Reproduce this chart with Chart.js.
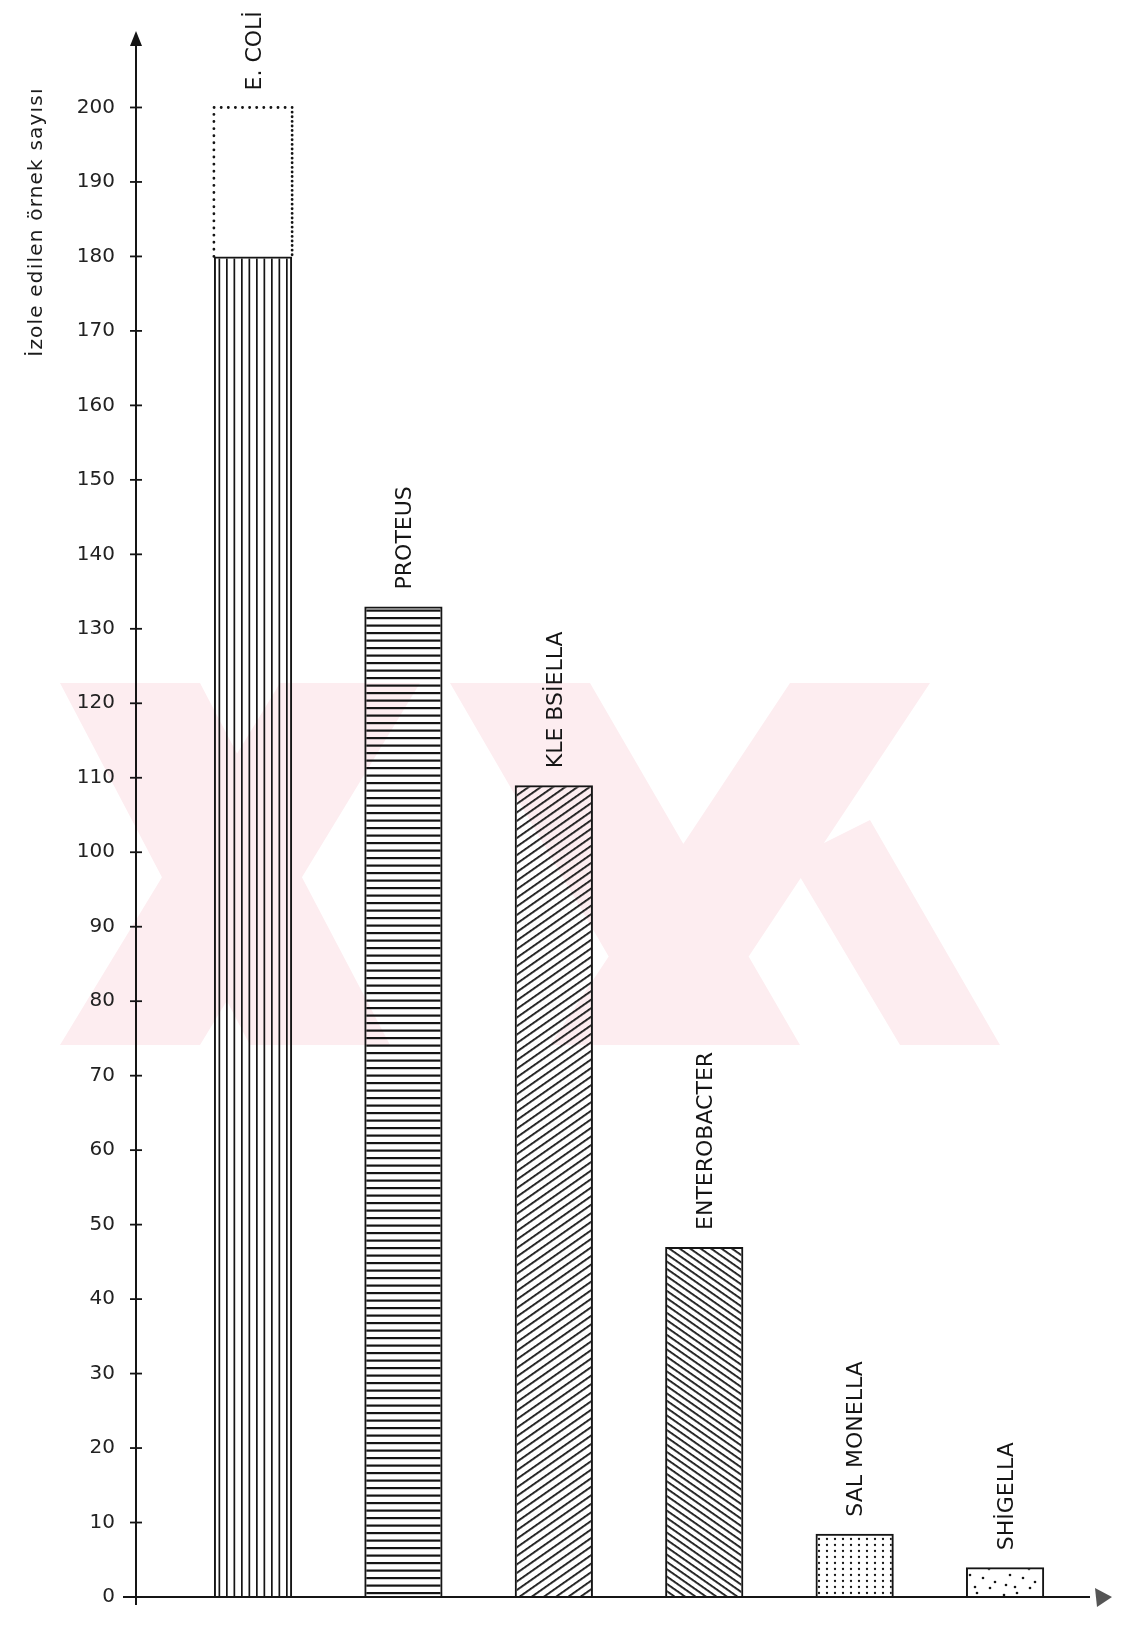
<!DOCTYPE html>
<html><head><meta charset="utf-8">
<script src="https://cdn.jsdelivr.net/npm/chart.js@4"></script>
<style>html,body{margin:0;padding:0;background:#fff;}#wrap{width:1129px;height:1630px;position:relative}</style>
</head><body><div id="wrap"><canvas id="c" width="1129" height="1630"></canvas></div>
<script>
// ---- data ----
const categories = ['E. COLİ', 'PROTEUS', 'KLE BSİELLA', 'ENTEROBACTER', 'SAL MONELLA', 'SHİGELLA'];
const isolatedCounts = [180, 133, 109, 47, 8.5, 4];
const ecoliDottedPart = [20, 0, 0, 0, 0, 0];
const yTickValues = [0, 10, 20, 30, 40, 50, 60, 70, 80, 90, 100, 110, 120, 130, 140, 150, 160, 170, 180, 190, 200];
const yAxisTitle = 'İzole edilen örnek sayısı';

// ---- fill patterns ----
function tile(w, h, draw) {
  const c = document.createElement('canvas'); c.width = w; c.height = h;
  const g = c.getContext('2d'); g.fillStyle = '#151515'; g.strokeStyle = '#151515';
  draw(g); return c;
}
const ctx0 = document.getElementById('c').getContext('2d');
function pat(c, rot) {
  const p = ctx0.createPattern(c, 'repeat');
  if (rot) p.setTransform(new DOMMatrix().rotate(rot));
  return p;
}
const patVertical = pat(tile(15, 4, g => { g.fillRect(1, 0, 1.7, 4); g.fillRect(8.5, 0, 1.7, 4); }));
const patHorizontal = pat(tile(4, 15, g => { g.fillRect(0, 2, 4, 2.2); g.fillRect(0, 9.5, 4, 2.2); }));
const patDiagUp = pat(tile(4, 7, g => { g.fillRect(0, 2, 4, 1.8); }), -35);
const patDiagDown = pat(tile(4, 6, g => { g.fillRect(0, 2, 4, 1.8); }), 35);
const patDenseDots = pat(tile(8, 6, g => { g.beginPath(); g.arc(3, 3, 1.15, 0, 7); g.fill(); }));
const patSparseDots = pat(tile(40, 30, g => {
  [[4, 5], [17, 3], [29, 9], [10, 15], [23, 18], [35, 22], [6, 25], [30, 28], [15, 27]].forEach(([a, b]) => { g.beginPath(); g.arc(a, b, 1.3, 0, 7); g.fill(); });
}));
const barFills = [patVertical, patHorizontal, patDiagUp, patDiagDown, patDenseDots, patSparseDots];

const INK = '#151515';
const decor = {
  id: 'decor',
  beforeDraw(chart) {
    const { ctx } = chart;
    ctx.save();
    ctx.fillStyle = '#fdedf0';
    const polys = [
      [[60, 683], [200, 683], [390, 1045], [250, 1045]],
      [[280, 683], [420, 683], [200, 1045], [60, 1045]],
      [[450, 683], [590, 683], [800, 1045], [660, 1045]],
      [[790, 683], [930, 683], [690, 1045], [550, 1045]],
      [[790, 860], [870, 820], [1000, 1045], [900, 1045]]
    ];
    ctx.beginPath();
    polys.forEach(p => { p.forEach(([a, b], i) => i ? ctx.lineTo(a, b) : ctx.moveTo(a, b)); ctx.closePath(); });
    ctx.fill('nonzero');
    ctx.restore();
  },
  afterDatasetsDraw(chart) {
    const { ctx, chartArea, scales: { x, y } } = chart;
    ctx.save();
    // dotted extension
    const meta = chart.getDatasetMeta(1);
    meta.data.forEach((el, i) => {
      if (!ecoliDottedPart[i]) return;
      const p = el.getProps(['x', 'y', 'base', 'width'], true);
      const l = p.x - p.width / 2, r = p.x + p.width / 2;
      ctx.lineCap = 'round'; ctx.lineWidth = 2.8; ctx.strokeStyle = INK;
      ctx.setLineDash([0.1, 7]);
      ctx.beginPath(); ctx.moveTo(l, p.base); ctx.lineTo(l, p.y); ctx.lineTo(r, p.y); ctx.stroke();
      ctx.setLineDash([0.1, 4.5]);
      ctx.beginPath(); ctx.moveTo(r, p.y); ctx.lineTo(r, p.base); ctx.stroke();
    });
    ctx.setLineDash([]); ctx.lineCap = 'butt';
    // axes
    const x0 = chartArea.left, y0 = y.getPixelForValue(0);
    ctx.strokeStyle = INK; ctx.fillStyle = INK; ctx.lineWidth = 2;
    ctx.beginPath(); ctx.moveTo(x0, y0 + 8); ctx.lineTo(x0, chartArea.top + 8); ctx.stroke();
    ctx.beginPath(); ctx.moveTo(x0, chartArea.top - 2); ctx.lineTo(x0 - 6, chartArea.top + 13); ctx.lineTo(x0 + 6, chartArea.top + 13); ctx.closePath(); ctx.fill();
    ctx.beginPath(); ctx.moveTo(x0 - 13, y0); ctx.lineTo(chartArea.right - 22, y0); ctx.stroke();
    ctx.fillStyle = '#555';
    ctx.beginPath(); ctx.moveTo(chartArea.right, y0); ctx.lineTo(chartArea.right - 17, y0 - 9); ctx.lineTo(chartArea.right - 15, y0 + 10); ctx.closePath(); ctx.fill();
    // tick crosses
    ctx.lineWidth = 1.8;
    yTickValues.forEach(v => { const py = y.getPixelForValue(v); ctx.beginPath(); ctx.moveTo(x0 - 6, py); ctx.lineTo(x0 + 6, py); ctx.stroke(); });
    // category labels
    ctx.fillStyle = INK; ctx.font = '22px "DejaVu Sans"';
    ctx.textAlign = 'left'; ctx.textBaseline = 'middle';
    categories.forEach((name, i) => {
      const top = isolatedCounts[i] + ecoliDottedPart[i];
      const px = x.getPixelForValue(i + 1), py = y.getPixelForValue(top) - 17;
      ctx.save(); ctx.translate(px + 2, py); ctx.rotate(-Math.PI / 2); ctx.fillText(name, 0, 0); ctx.restore();
    });
    // y title
    ctx.font = '20px "DejaVu Sans"'; ctx.fillStyle = '#1c1c1c'; ctx.textAlign = 'center';
    ctx.save(); ctx.translate(37, 222); ctx.rotate(-Math.PI / 2); ctx.letterSpacing = '1.2px'; ctx.fillText(yAxisTitle, 0, 0); ctx.restore();
    ctx.restore();
  }
};

new Chart(document.getElementById('c'), {
  type: 'bar',
  data: {
    datasets: [
      { data: isolatedCounts.map((v, i) => ({ x: i + 1, y: v })), backgroundColor: barFills, borderColor: INK, borderWidth: 2, barPercentage: 0.52, categoryPercentage: 1 },
      { data: ecoliDottedPart.map((v, i) => ({ x: i + 1, y: v })), backgroundColor: 'rgba(0,0,0,0)', borderWidth: 0, barPercentage: 0.52, categoryPercentage: 1 }
    ]
  },
  options: {
    responsive: false, animation: false, devicePixelRatio: 1,
    layout: { padding: { left: 0, right: 17, top: 32, bottom: 15 } },
    plugins: { legend: { display: false }, tooltip: { enabled: false } },
    scales: {
      x: {
        type: 'linear', min: 0.222, max: 6.711, stacked: true, display: false, offset: false,
        afterBuildTicks: s => { s.ticks = categories.map((_, i) => ({ value: i + 1 })); }
      },
      y: {
        min: 0, max: 210, stacked: true,
        grid: { display: false, drawTicks: false }, border: { display: false },
        ticks: { stepSize: 10, padding: 21, color: '#222', font: { family: 'DejaVu Sans', size: 20 } },
        afterBuildTicks: s => { s.ticks = yTickValues.map(v => ({ value: v })); },
        afterFit: s => { s.width = 136; }
      }
    }
  },
  plugins: [decor]
});
</script></body></html>
